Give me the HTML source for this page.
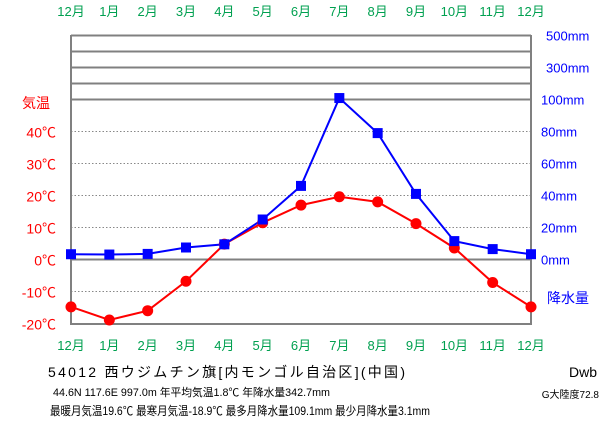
<!DOCTYPE html>
<html><head><meta charset="utf-8"><style>
body{margin:0;background:#fff;width:611px;height:425px;overflow:hidden;font-family:"Liberation Sans","Noto Sans CJK JP",sans-serif}
svg text{font-family:"Liberation Sans","Noto Sans CJK JP",sans-serif}
</style></head><body>
<svg id="c" width="611" height="425" xmlns="http://www.w3.org/2000/svg">
<g id="grid"></g><g id="series"></g><g id="labels"></g>
<text x="48" y="377" font-size="14" textLength="357" lengthAdjust="spacing">54012  西ウジムチン旗[内モンゴル自治区](中国)</text>
<text x="53" y="396" font-size="11" textLength="277" lengthAdjust="spacingAndGlyphs">44.6N  117.6E  997.0m  年平均気温1.8℃  年降水量342.7mm</text>
<text x="50" y="415" font-size="12" textLength="380" lengthAdjust="spacingAndGlyphs">最暖月気温19.6℃ 最寒月気温-18.9℃ 最多月降水量109.1mm 最少月降水量3.1mm</text>
<text x="597" y="377" font-size="14" text-anchor="end">Dwb</text>
<text x="599" y="398" font-size="10" text-anchor="end">G大陸度72.8</text>
</svg>
<script>
const months=["12月","1月","2月","3月","4月","5月","6月","7月","8月","9月","10月","11月","12月"];
const temps=[-14.8,-18.9,-16.0,-6.8,4.8,11.5,17.0,19.6,18.0,11.2,3.6,-7.2,-14.8];
const precip=[3.3,3.1,3.5,7.5,9.5,25,46,109.1,79,41,11.5,6.5,3.3];
const tempTicks=[40,30,20,10,0,-10,-20];
const precipTicks=[0,20,40,60,80,100,300,500];
const NS="http://www.w3.org/2000/svg";
const L=71,R=531,T=35,B=324;
const xAt=i=>L+i*(R-L)/12;
const yT=t=>259.5-t*3.2;
const yP=v=>v<=100?259.5-v*1.6:99.5-(v-100)*0.16;
function mk(p,tag,a){const e=document.createElementNS(NS,tag);for(const k in a)e.setAttribute(k,a[k]);p.appendChild(e);return e;}
const g=document.getElementById('grid'),s=document.getElementById('series'),lb=document.getElementById('labels');
[-10,10,20,30,40].forEach(t=>{const e=mk(g,'line',{x1:L,x2:R,y1:yT(t),y2:yT(t),stroke:'#888','stroke-dasharray':'1.5,2'});

});
[0,100,200,300,400,500].forEach(v=>{const y=v===0?yT(0):yP(v);const e=mk(g,'line',{x1:L,x2:R,y1:y,y2:y,stroke:'#808080','stroke-width':2});

});
const bx=mk(g,'path',{d:`M${L},${T}V${B}H${R}V${T}`,fill:'none',stroke:'#808080','stroke-width':2});


months.forEach((m,i)=>{[16,350].forEach(y=>{const e=mk(lb,'text',{x:xAt(i),y:y,'text-anchor':'middle','font-size':13,fill:'#00a050'});e.textContent=m;

});});
tempTicks.forEach(t=>{const e=mk(lb,'text',{x:56,y:yT(t)+6,'text-anchor':'end','font-size':14,fill:'#f00'});e.textContent=t+'℃';

});
const tt=mk(lb,'text',{x:22,y:108,'font-size':14,fill:'#f00'});tt.textContent='気温';


precipTicks.forEach(v=>{const e=mk(lb,'text',{x:v>=300?546:541,y:yP(v)+5,'font-size':13,fill:'#00f'});e.textContent=v+'mm';

});
const pt=mk(lb,'text',{x:547,y:303,'font-size':14,fill:'#00f'});pt.textContent='降水量';


const tl=mk(s,'polyline',{points:temps.map((t,i)=>xAt(i)+','+yT(t)).join(' '),fill:'none',stroke:'#f00','stroke-width':2});


const pl=mk(s,'polyline',{points:precip.map((v,i)=>xAt(i)+','+yP(v)).join(' '),fill:'none',stroke:'#00f','stroke-width':2});


temps.forEach((t,i)=>{const e=mk(s,'circle',{cx:xAt(i),cy:yT(t),r:5.5,fill:'#f00'});

});
precip.forEach((v,i)=>{const e=mk(s,'rect',{x:xAt(i)-5,y:yP(v)-5,width:10,height:10,fill:'#00f'});

});
</script>
</body></html>
